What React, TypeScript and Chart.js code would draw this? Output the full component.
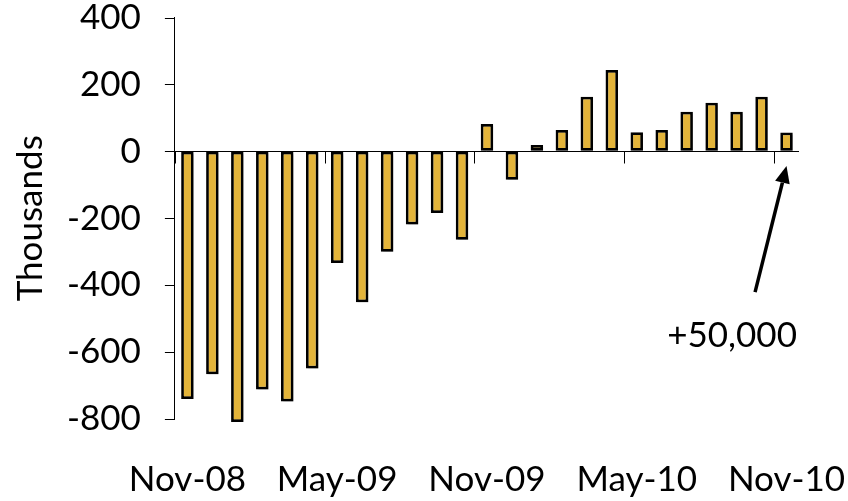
import React, { useEffect, useRef } from 'react';
import { Chart, registerables } from 'chart.js';

Chart.register(...registerables);

const categories = [
  'Nov-08', 'Dec-08', 'Jan-09', 'Feb-09', 'Mar-09', 'Apr-09', 'May-09', 'Jun-09', 'Jul-09',
  'Aug-09', 'Sep-09', 'Oct-09', 'Nov-09', 'Dec-09', 'Jan-10', 'Feb-10', 'Mar-10', 'Apr-10',
  'May-10', 'Jun-10', 'Jul-10', 'Aug-10', 'Sep-10', 'Oct-10', 'Nov-10',
];
const jobChanges = [
  -740, -666, -809, -712, -748, -649, -334, -451, -300, -219, -184, -264,
  82, -85, 19, 64, 163, 243, 57, 64, 118, 145, 118, 163, 56,
];
const shownLabels = ['Nov-08', 'May-09', 'Nov-09', 'May-10', 'Nov-10'];
const yMin = -800;
const yMax = 400;
const yStep = 200;
const yTitle = 'Thousands';
const noteText = '+50,000';
const arrowTip = [24, -44];
const arrowTail = [22.74, -421];
const noteAnchor = [21.82, -552];

const FONT = 'Lato, "Open Sans", sans-serif';
const FS = 35;

const axesPlugin = {
  id: 'axisMarks',
  beforeDatasetsDraw(chart: any) {
    const { ctx, chartArea, scales } = chart;
    const x = scales.x;
    const y = scales.y;
    const y0 = Math.round(y.getPixelForValue(0)) + 0.5;
    ctx.save();
    ctx.strokeStyle = '#000';
    ctx.lineWidth = 1;
    ctx.beginPath();
    ctx.moveTo(chartArea.left, y0);
    ctx.lineTo(chartArea.right, y0);
    categories.forEach((c, i) => {
      if (shownLabels.includes(c)) {
        const px = Math.round(x.getPixelForValue(i - 0.5)) + 0.5;
        ctx.moveTo(px, y0);
        ctx.lineTo(px, y0 + 12);
      }
    });
    y.ticks.forEach((t: any) => {
      const py = Math.round(y.getPixelForValue(t.value)) + 0.5;
      ctx.moveTo(chartArea.left - 10, py);
      ctx.lineTo(chartArea.left, py);
    });
    ctx.stroke();
    ctx.restore();
    ctx.save();
    ctx.shadowColor = 'rgba(0,0,0,0.25)';
    ctx.shadowOffsetX = 2;
    ctx.shadowOffsetY = 2;
    ctx.shadowBlur = 2;
  },
  afterDatasetsDraw(chart: any) {
    const { ctx, scales } = chart;
    ctx.restore();
    const x = scales.x;
    const y = scales.y;
    const tx = x.getPixelForValue(arrowTip[0]);
    const ty = y.getPixelForValue(arrowTip[1]);
    const sx = x.getPixelForValue(arrowTail[0]);
    const sy = y.getPixelForValue(arrowTail[1]);
    const ang = Math.atan2(ty - sy, tx - sx);
    const headLen = 17;
    const headHalf = 7.5;
    const bx = tx - headLen * Math.cos(ang);
    const by = ty - headLen * Math.sin(ang);
    ctx.save();
    ctx.strokeStyle = '#000';
    ctx.fillStyle = '#000';
    ctx.lineWidth = 3.5;
    ctx.beginPath();
    ctx.moveTo(sx, sy);
    ctx.lineTo(bx, by);
    ctx.stroke();
    ctx.beginPath();
    ctx.moveTo(tx, ty);
    ctx.lineTo(bx + headHalf * Math.sin(ang), by - headHalf * Math.cos(ang));
    ctx.lineTo(bx - headHalf * Math.sin(ang), by + headHalf * Math.cos(ang));
    ctx.closePath();
    ctx.fill();
    ctx.font = `${FS}px ${FONT}`;
    ctx.textAlign = 'center';
    ctx.textBaseline = 'middle';
    ctx.fillText(noteText, x.getPixelForValue(noteAnchor[0]), y.getPixelForValue(noteAnchor[1]));
    ctx.restore();
  },
};

export default function App() {
  const ref = useRef<HTMLCanvasElement | null>(null);

  useEffect(() => {
    if (!ref.current) return;
    const chart = new Chart(ref.current, {
      type: 'bar',
      data: {
        labels: categories,
        datasets: [
          {
            data: jobChanges,
            backgroundColor: '#E3B43A',
            borderColor: '#000',
            borderWidth: 2.75,
            borderSkipped: false,
            barPercentage: 0.5,
            categoryPercentage: 1,
            clip: 12,
          } as any,
        ],
      },
      options: {
        animation: false,
        responsive: true,
        maintainAspectRatio: false,
        layout: { padding: { left: 0, right: 49, top: 0, bottom: 0 } },
        plugins: { legend: { display: false }, tooltip: { enabled: false } },
        scales: {
          x: {
            type: 'category',
            position: 'bottom',
            offset: true,
            grid: {
              display: true,
              offset: true,
              drawOnChartArea: false,
              drawTicks: true,
              tickLength: 40,
              color: 'rgba(0,0,0,0)',
            },
            border: { display: false },
            ticks: {
              autoSkip: false,
              maxRotation: 0,
              padding: 0,
              color: '#000',
              font: { family: FONT, size: FS },
              callback: (_v: any, i: number) =>
                shownLabels.includes(categories[i]) ? categories[i] : '',
            },
          },
          y: {
            min: yMin,
            max: yMax,
            position: 'left',
            grid: {
              drawOnChartArea: false,
              drawTicks: true,
              tickLength: 34,
              color: 'rgba(0,0,0,0)',
            },
            border: { display: true, color: '#000', width: 1 },
            ticks: {
              stepSize: yStep,
              padding: 0,
              color: '#000',
              font: { family: FONT, size: FS, lineHeight: 1 },
            },
            title: {
              display: true,
              text: yTitle,
              color: '#000',
              font: { family: FONT, size: FS },
              padding: { top: 10, bottom: 15 },
            },
          },
        },
      },
      plugins: [axesPlugin],
    });
    return () => chart.destroy();
  }, []);

  return (
    <div style={{ position: 'absolute', left: 0, top: 0, width: 848, height: 501 }}>
      <canvas ref={ref} />
    </div>
  );
}
